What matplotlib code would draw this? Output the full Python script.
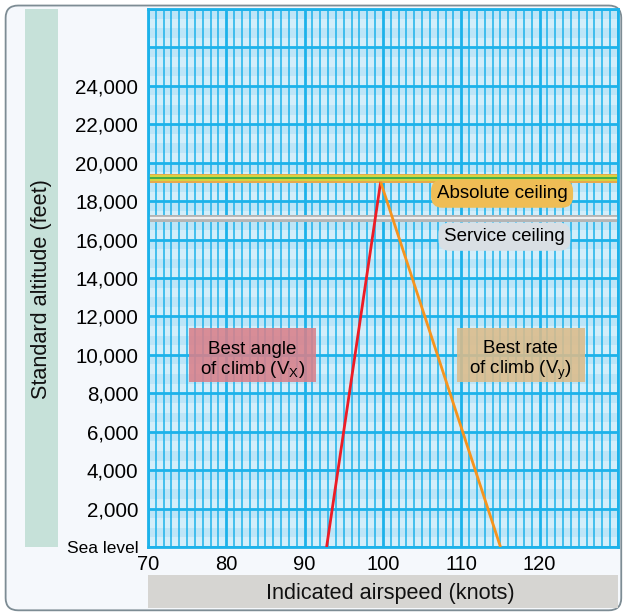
import matplotlib.pyplot as plt
from matplotlib.patches import FancyBboxPatch, Rectangle

plt.rcParams['font.family'] = ['Liberation Sans', 'DejaVu Sans']

# Climb performance chart: best angle / best rate of climb vs altitude

# axis values
airspeed_ticks = [70, 80, 90, 100, 110, 120]
altitude_ticks = [0, 2000, 4000, 6000, 8000, 10000, 12000, 14000,
                  16000, 18000, 20000, 22000, 24000]
altitude_labels = ['Sea level'] + ['{:,}'.format(a) for a in altitude_ticks[1:]]

# Vx line (red) and Vy line (orange): airspeed [kt] vs altitude [ft]
vx_speed = [92.8, 99.7]
vx_alt = [0, 19000]
vy_speed = [99.7, 115.0]
vy_alt = [19000, 0]

absolute_ceiling = 19200
service_ceiling = 17100

grid_blue = '#1cb2ea'

fig = plt.figure(figsize=(6.25, 6.14), dpi=100, facecolor='white')

# outer rounded frame
frame = FancyBboxPatch((0.009, 0.006), 0.985, 0.985, boxstyle='round,pad=0,rounding_size=0.02',
                       transform=fig.transFigure, facecolor='#f5f8fc', edgecolor='#7d8c94',
                       lw=1.3, zorder=0)
fig.patches.append(frame)

# label bands
fig.patches.append(Rectangle((25 / 625, 1 - 547 / 614), 33 / 625, 538 / 614,
                             transform=fig.transFigure, facecolor='#c6e1d9', edgecolor='none', zorder=1))
fig.patches.append(Rectangle((148 / 625, 1 - 608 / 614), 470 / 625, 33 / 614,
                             transform=fig.transFigure, facecolor='#d6d5d2', edgecolor='none', zorder=1))
fig.text(42 / 625, 1 - 289 / 614, 'Standard altitude (feet)', rotation=90,
         ha='center', va='center', fontsize=15.6, color='#111111')
fig.text(390 / 625, 1 - 593 / 614, 'Indicated airspeed (knots)',
         ha='center', va='center', fontsize=15.6, color='#111111')

ax = fig.add_axes([148 / 625, 1 - 547 / 614, 470 / 625, 538 / 614])
ax.set_zorder(3)
ax.set_xlim(70, 130)
ax.set_ylim(0, 28000)
ax.set_facecolor('#d3eefa')

# horizontal light stripes
for a in range(0, 28000, 1000):
    ax.axhspan(a + 500, a + 1000, color='#bde5f7', lw=0, zorder=0)

# grid
for k in range(70, 131):
    ax.axvline(k, color=grid_blue, lw=2.0 if k % 10 == 0 else 1.1, zorder=1)
for a in range(0, 28001, 2000):
    ax.axhline(a, color=grid_blue, lw=2.0, zorder=1)

# ceilings
ax.axhspan(absolute_ceiling - 230, absolute_ceiling + 230, color='#e8a94a', lw=0, zorder=2)
ax.axhspan(absolute_ceiling - 140, absolute_ceiling + 140, color='#d8d440', lw=0, zorder=2)
ax.axhline(absolute_ceiling, color='#2aa84a', lw=1.2, zorder=2)
ax.axhspan(service_ceiling - 200, service_ceiling + 200, color='#b4b4b4', lw=0, zorder=2)
ax.axhline(service_ceiling, color='#f0f0f0', lw=1.6, zorder=2)

ax.text(115.2, 18390, 'Absolute ceiling', ha='center', va='center', fontsize=13.5, zorder=5,
        bbox=dict(boxstyle='round,pad=0.3,rounding_size=0.6', facecolor='#efbd55',
                  edgecolor='none'))
ax.text(115.5, 16150, 'Service ceiling', ha='center', va='center', fontsize=13.5, zorder=5,
        bbox=dict(boxstyle='round,pad=0.3,rounding_size=0.6', facecolor='#d9dfe4',
                  edgecolor='none'))

# climb speed boxes
ax.add_patch(Rectangle((75.2, 8600), 16.2, 2800, facecolor='#d9808a', alpha=0.88,
                       edgecolor='none', zorder=3))
ax.text(83.3, 9700, 'Best angle\nof climb (V$_\\mathregular{X}$)', ha='center', va='center',
        fontsize=13.5, linespacing=1.1, zorder=5)
ax.add_patch(Rectangle((109.4, 8600), 16.4, 2800, facecolor='#dcbb8a', alpha=0.88,
                       edgecolor='none', zorder=3))
ax.text(117.6, 9700, 'Best rate\nof climb (V$_\\mathregular{y}$)', ha='center', va='center',
        fontsize=13.5, linespacing=1.1, zorder=5)

# climb lines
ax.plot(vx_speed, vx_alt, color='#ee1c25', lw=2, zorder=4, solid_capstyle='butt')
ax.plot(vy_speed, vy_alt, color='#f7941d', lw=2, zorder=4, solid_capstyle='butt')

ax.set_xticks(airspeed_ticks)
ax.set_xticklabels([str(s) for s in airspeed_ticks], fontsize=14.5)
ax.set_yticks(altitude_ticks)
ax.set_yticklabels(altitude_labels, fontsize=14.8)
ax.get_yticklabels()[0].set_fontsize(12.5)
ax.tick_params(length=0, pad=7)
ax.tick_params(axis='x', pad=6)
for s in ax.spines.values():
    s.set_color(grid_blue)
    s.set_linewidth(2)

plt.savefig('out.png', dpi=100)
